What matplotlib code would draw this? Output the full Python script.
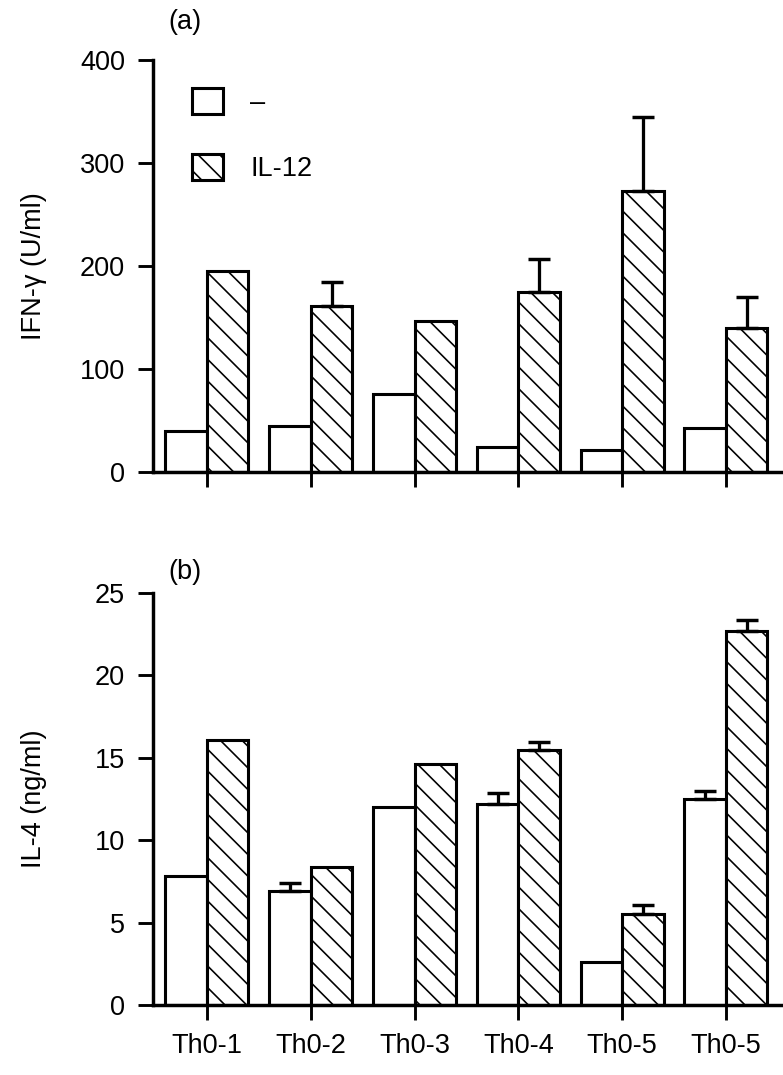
import numpy as np
import matplotlib
matplotlib.use('Agg')
import matplotlib.pyplot as plt
from matplotlib.patches import Patch

plt.rcParams['font.family'] = ['Liberation Sans', 'DejaVu Sans']
plt.rcParams['hatch.linewidth'] = 0.9

# data
groups = ['Th0-1', 'Th0-2', 'Th0-3', 'Th0-4', 'Th0-5', 'Th0-5']
ifn_ctrl = [40, 45, 76, 24, 21, 43]
ifn_il12 = [195, 161, 147, 175, 273, 140]
ifn_ctrl_err = [0, 0, 0, 0, 0, 0]
ifn_il12_err = [0, 23, 0, 32, 72, 30]

il4_ctrl = [7.8, 6.9, 12.0, 12.2, 2.6, 12.5]
il4_il12 = [16.1, 8.4, 14.65, 15.45, 5.55, 22.7]
il4_ctrl_err = [0, 0.5, 0, 0.65, 0, 0.5]
il4_il12_err = [0, 0, 0, 0.5, 0.5, 0.65]

# dpi 130 so the hatch spacing comes out close to the original
DPI = 130
fig = plt.figure(figsize=(783 / DPI, 1075 / DPI), dpi=DPI)
ax1 = fig.add_axes([0.1954, 0.5609, 0.8046, 0.3833])
ax2 = fig.add_axes([0.1954, 0.0651, 0.8046, 0.3833])

x = np.arange(len(groups))
w = 0.4
lw = 1.7
fs = 15


def draw(ax, ctrl, il12, ctrl_err, il12_err):
    ax.bar(x - w / 2, ctrl, w, color='white', edgecolor='black', linewidth=lw, zorder=2)
    ax.bar(x + w / 2, il12, w, color='white', edgecolor='black', linewidth=lw,
           hatch='\\\\', zorder=2)
    for xs, vals, errs in [(x - w / 2, ctrl, ctrl_err), (x + w / 2, il12, il12_err)]:
        for xi, v, e in zip(xs, vals, errs):
            if e > 0:
                ax.errorbar(xi, v, yerr=[[0], [e]], fmt='none', ecolor='black',
                            elinewidth=1.8, capsize=6, capthick=1.9, zorder=3)
    ax.set_xlim(-0.52, 5.55)
    ax.set_xticks(x)
    for s in ['top', 'right']:
        ax.spines[s].set_visible(False)
    for s in ['left', 'bottom']:
        ax.spines[s].set_linewidth(1.9)
    ax.tick_params(axis='both', direction='out', length=8.5, width=1.6, labelsize=fs, pad=7)


draw(ax1, ifn_ctrl, ifn_il12, ifn_ctrl_err, ifn_il12_err)
ax1.set_ylim(0, 400)
ax1.set_yticks([0, 100, 200, 300, 400])
ax1.set_xticklabels([])
ax1.set_ylabel('IFN-γ (U/ml)', fontsize=fs)
ax1.yaxis.set_label_coords(-0.168, 0.5)

draw(ax2, il4_ctrl, il4_il12, il4_ctrl_err, il4_il12_err)
ax2.set_ylim(0, 25)
ax2.set_yticks([0, 5, 10, 15, 20, 25])
ax2.set_xticklabels(groups)
ax2.set_ylabel('IL-4 (ng/ml)', fontsize=fs)
ax2.yaxis.set_label_coords(-0.168, 0.5)

handles = [Patch(facecolor='white', edgecolor='black', linewidth=lw),
           Patch(facecolor='white', edgecolor='black', linewidth=lw, hatch='\\\\')]
ax1.legend(handles, ['–', 'IL-12'], loc='upper left', bbox_to_anchor=(0.062, 0.932),
           frameon=False, fontsize=fs, handlelength=1.15, handleheight=1.1,
           labelspacing=1.4, handletextpad=1.0, borderpad=0, borderaxespad=0)

fig.text(0.2146, 0.9795, '(a)', fontsize=fs, va='center', ha='left')
fig.text(0.2146, 0.4675, '(b)', fontsize=fs, va='center', ha='left')

fig.savefig('out.png', dpi=DPI)
